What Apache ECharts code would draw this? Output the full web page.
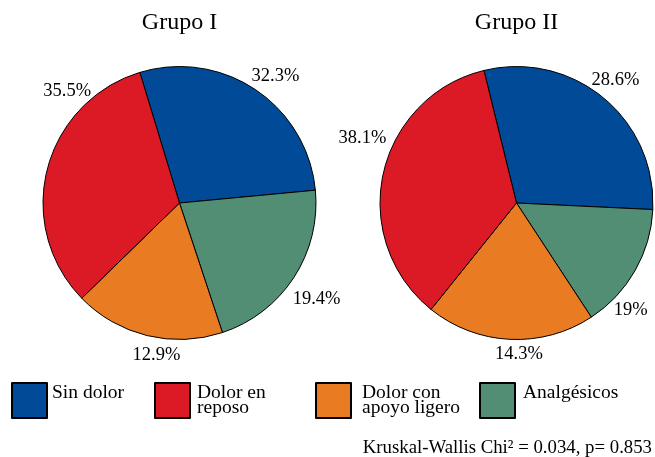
<!DOCTYPE html>
<html>
<head>
<meta charset="utf-8">
<title>Grupo I / Grupo II</title>
<script src="https://cdn.jsdelivr.net/npm/echarts@6/dist/echarts.min.js"></script>
<style>
  html, body { margin: 0; padding: 0; background: #fff; }
  #main { width: 655px; height: 457px; }
</style>
</head>
<body>
<div id="main"></div>
<script>
  // categorias (orden de las rebanadas, en sentido horario)
  var categorias = ['Sin dolor', 'Analgésicos', 'Dolor con apoyo ligero', 'Dolor en reposo'];
  var leyendaTexto = ['Sin dolor', 'Dolor en\nreposo', 'Dolor con\napoyo ligero', 'Analgésicos'];
  var leyendaOrden = ['Sin dolor', 'Dolor en reposo', 'Dolor con apoyo ligero', 'Analgésicos'];

  // tamaño de cada rebanada tal como se ve dibujada (%)
  var grupo1 = [28.2, 21.4, 17.8, 32.6];
  var grupo2 = [29.6, 15.0, 20.0, 35.4];
  // etiquetas impresas
  var etiquetas1 = ['32.3%', '19.4%', '12.9%', '35.5%'];
  var etiquetas2 = ['28.6%', '19%', '14.3%', '38.1%'];

  var colores = {
    'Sin dolor': '#004a98',
    'Analgésicos': '#528e74',
    'Dolor con apoyo ligero': '#e97b22',
    'Dolor en reposo': '#dc1a26'
  };

  var fuente = 'Liberation Serif, Times New Roman, serif';
  var R = 136.5;      // radio del pastel
  var distEtq = 23;   // largo de la guia (invisible)
  // ajuste de cada etiqueta: giro (grados, horario) y distancia al centro
  var giro = [[2.7, 1.2, -4.9, 31], [-1.3, 12.8, -3.7, 11]];
  var dist = [[161, 166, 151, 160], [160, 155, 149, 168]];

  function armarDatos(valores) {
    var out = [];
    for (var i = 0; i < categorias.length; i++) {
      out.push({ name: categorias[i], value: valores[i], itemStyle: { color: colores[categorias[i]] } });
    }
    return out;
  }

  function ubicarEtiqueta(p, g) {
    var pts = p.labelLinePoints;
    if (!pts) return {};
    var dx = pts[1][0] - pts[0][0], dy = pts[1][1] - pts[0][1];
    var len = Math.sqrt(dx * dx + dy * dy) || 1;
    var ux = dx / len, uy = dy / len;
    var cx = pts[0][0] - ux * R, cy = pts[0][1] - uy * R;
    var t = giro[g][p.dataIndex] * Math.PI / 180;
    var rx = ux * Math.cos(t) - uy * Math.sin(t);
    var ry = ux * Math.sin(t) + uy * Math.cos(t);
    var d = dist[g][p.dataIndex];
    return {
      x: cx + rx * d,
      y: cy + ry * d + 2.5,
      align: 'center',
      verticalAlign: 'middle'
    };
  }

  function serie(valores, etiquetas, centro, inicio, g) {
    return {
      type: 'pie',
      radius: R,
      center: centro,
      startAngle: inicio,
      clockwise: true,
      avoidLabelOverlap: false,
      animation: false,
      silent: true,
      data: armarDatos(valores),
      itemStyle: { borderColor: '#000', borderWidth: 1 },
      label: {
        show: true,
        position: 'outside',
        fontFamily: fuente,
        fontSize: 18.5,
        color: '#000',
        formatter: function (p) { return etiquetas[p.dataIndex]; }
      },
      labelLine: { show: true, length: distEtq, length2: 0, lineStyle: { opacity: 0 } },
      labelLayout: function (p) { return ubicarEtiqueta(p, g); }
    };
  }

  // leyendas: una por categoria
  var leyIzq = [11, 154, 315, 479];
  var leyPadIzq = [0, 2, 6, 3];
  var leyendas = [];
  for (var k = 0; k < leyendaOrden.length; k++) {
    (function (k) {
      leyendas.push({
        data: [leyendaOrden[k]],
        left: leyIzq[k],
        top: 382,
        padding: 0,
        itemWidth: 35,
        itemHeight: 35,
        icon: 'rect',
        selectedMode: false,
        formatter: function () {
          var s = leyendaTexto[k];
          // texto de una linea: alineado arriba como en el original
          return s.indexOf('\n') < 0 ? s + '\n ' : s;
        },
        textStyle: {
          fontFamily: fuente,
          fontSize: 19.5,
          lineHeight: 15,
          color: '#000',
          padding: [0, 0, 0, leyPadIzq[k]]
        }
      });
    })(k);
  }

  var chart = echarts.init(document.getElementById('main'));
  chart.setOption({
    backgroundColor: '#fff',
    animation: false,
    title: [
      { text: 'Grupo I', left: 179.5, top: 11, textAlign: 'center', padding: 0,
        textStyle: { fontFamily: fuente, fontSize: 24, fontWeight: 'normal', color: '#000' } },
      { text: 'Grupo II', left: 516.5, top: 11, textAlign: 'center', padding: 0,
        textStyle: { fontFamily: fuente, fontSize: 24, fontWeight: 'normal', color: '#000' } },
      { text: 'Kruskal-Wallis Chi² = 0.034, p= 0.853', right: 3, top: 439, padding: 0,
        textStyle: { fontFamily: fuente, fontSize: 18.8, fontWeight: 'normal', color: '#000' } }
    ],
    legend: leyendas,
    series: [
      serie(grupo1, etiquetas1, [179.5, 203], 106.9, 0),
      serie(grupo2, etiquetas2, [516.5, 203], 103.8, 1)
    ]
  });
</script>
</body>
</html>
